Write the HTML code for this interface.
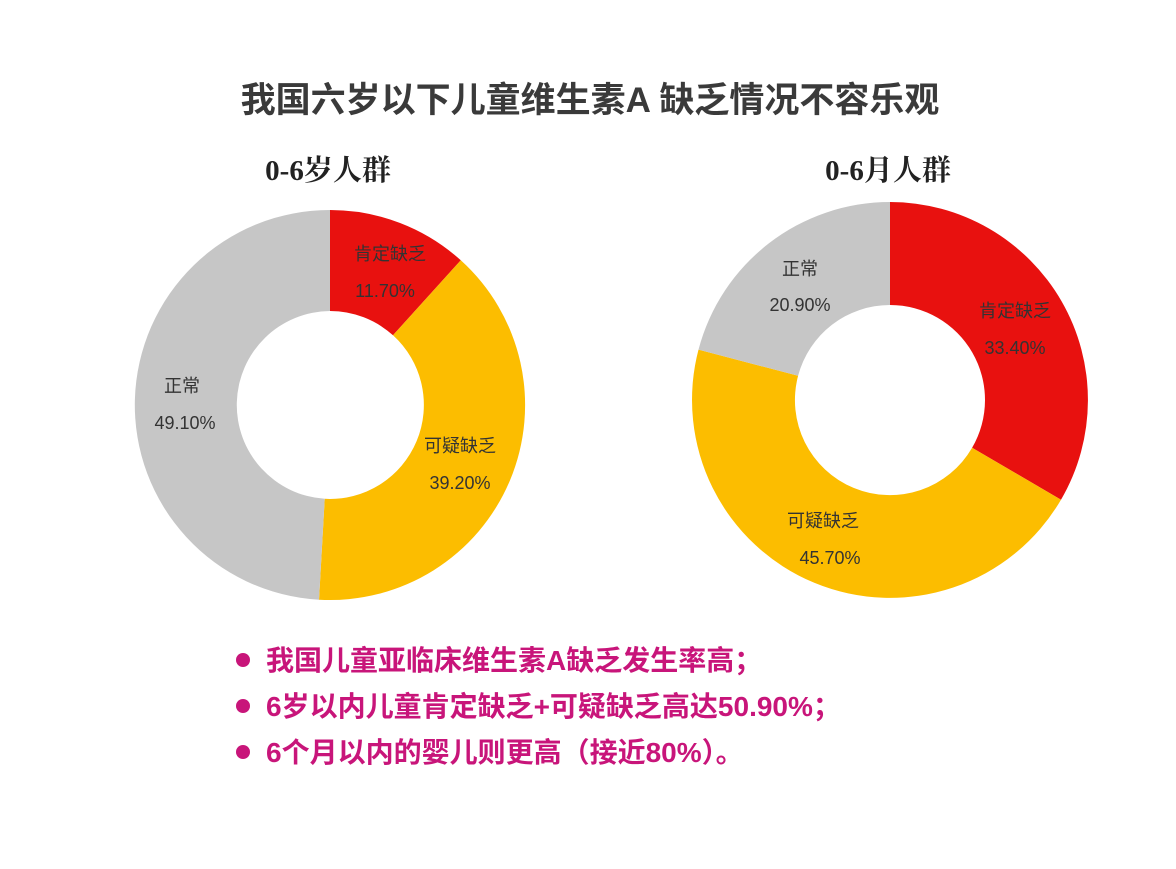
<!DOCTYPE html>
<html><head><meta charset="utf-8">
<style>
html,body{margin:0;padding:0;background:#fff;}
body{width:1176px;height:869px;position:relative;overflow:hidden;font-family:"Liberation Sans","Noto Sans CJK SC",sans-serif;}
</style></head>
<body>
<svg width="1176" height="869" xmlns="http://www.w3.org/2000/svg" style="position:absolute;left:0;top:0">
<text x="590" y="112" text-anchor="middle" font-size="35" font-weight="bold" fill="#3a3a3a" font-family="Liberation Sans,Noto Sans CJK SC,sans-serif">我国六岁以下儿童维生素A 缺乏情况不容乐观</text>
<text x="328" y="180" text-anchor="middle" font-size="29" font-weight="bold" fill="#222" font-family="Liberation Serif,Noto Serif CJK SC,serif">0-6岁人群</text>
<text x="888" y="180" text-anchor="middle" font-size="29" font-weight="bold" fill="#222" font-family="Liberation Serif,Noto Serif CJK SC,serif">0-6月人群</text>

<path fill="#e8110f" d="M330,210 A195,195 0 0 1 460.8,260.3 L393.0,335.3 A94,94 0 0 0 330,311 Z"/>
<path fill="#fcbd00" d="M460.8,260.3 A195,195 0 0 1 319.0,599.7 L324.7,498.8 A94,94 0 0 0 393.0,335.3 Z"/>
<path fill="#c6c6c6" d="M319.0,599.7 A195,195 0 0 1 330,210 L330,311 A94,94 0 0 0 324.7,498.8 Z"/>

<path fill="#e8110f" d="M890,202 A198,198 0 0 1 1061.0,499.7 L972.1,447.8 A95,95 0 0 0 890,305 Z"/>
<path fill="#fcbd00" d="M1061.0,499.7 A198,198 0 0 1 698.5,349.6 L798.1,375.8 A95,95 0 0 0 972.1,447.8 Z"/>
<path fill="#c6c6c6" d="M698.5,349.6 A198,198 0 0 1 890,202 L890,305 A95,95 0 0 0 798.1,375.8 Z"/>

<g font-size="18" fill="#333" text-anchor="middle" font-family="Liberation Sans,Noto Sans CJK SC,sans-serif">
<text x="390" y="260">肯定缺乏</text><text x="385" y="297">11.70%</text>
<text x="460" y="452">可疑缺乏</text><text x="460" y="489">39.20%</text>
<text x="182" y="392">正常</text><text x="185" y="429">49.10%</text>
<text x="800" y="275">正常</text><text x="800" y="311">20.90%</text>
<text x="1015" y="317">肯定缺乏</text><text x="1015" y="354">33.40%</text>
<text x="823" y="527">可疑缺乏</text><text x="830" y="564">45.70%</text>
</g>

<g fill="#c8157a" font-size="28" font-weight="bold" font-family="Liberation Sans,Noto Sans CJK SC,sans-serif">
<circle cx="243" cy="660" r="7"/><text x="266" y="670">我国儿童亚临床维生素A缺乏发生率高；</text>
<circle cx="243" cy="706" r="7"/><text x="266" y="716">6岁以内儿童肯定缺乏+可疑缺乏高达50.90%；</text>
<circle cx="243" cy="752" r="7"/><text x="266" y="762">6个月以内的婴儿则更高（接近80%）。</text>
</g>
</svg>
</body></html>
